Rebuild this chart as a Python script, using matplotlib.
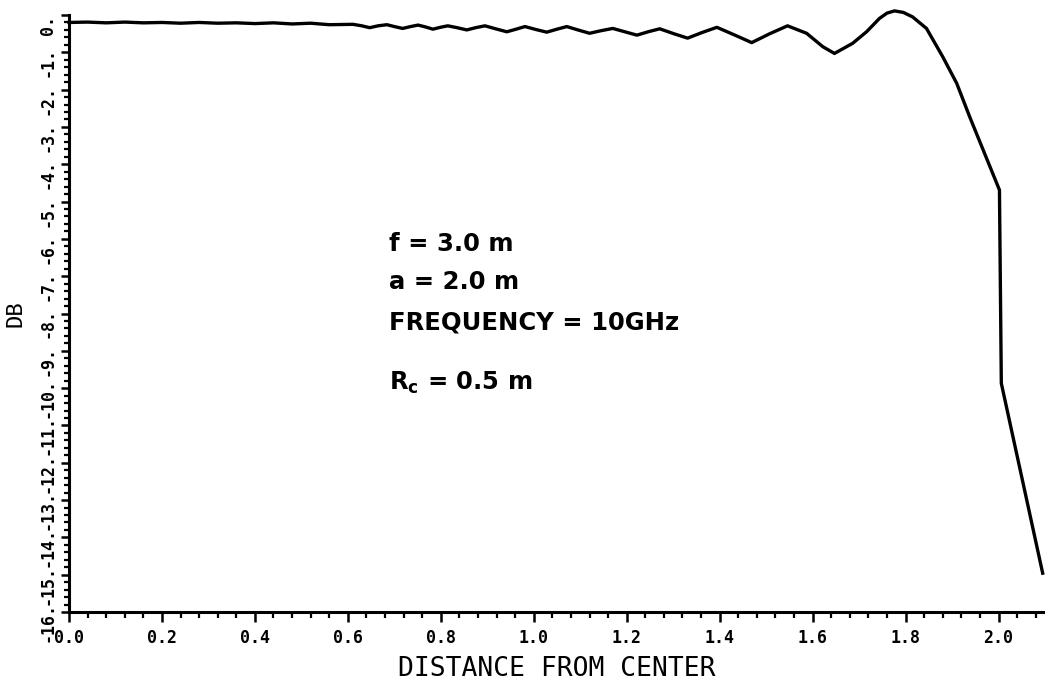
import numpy as np
import matplotlib
matplotlib.use("Agg")
import matplotlib.pyplot as plt
import matplotlib.transforms as mtransforms
from matplotlib.ticker import FixedLocator, FixedFormatter, MultipleLocator

# curve: distance from center (m) vs level (dB)
dist = [0.000, 0.040, 0.080, 0.120, 0.160, 0.200, 0.240, 0.280, 0.320, 0.360,
        0.400, 0.440, 0.480, 0.520, 0.560, 0.611, 0.630, 0.647, 0.665, 0.684,
        0.700, 0.718, 0.735, 0.751, 0.767, 0.783, 0.799, 0.815, 0.835, 0.856,
        0.875, 0.895, 0.918, 0.942, 0.962, 0.981, 1.005, 1.028, 1.050, 1.071,
        1.095, 1.120, 1.145, 1.170, 1.196, 1.222, 1.246, 1.271, 1.301, 1.331,
        1.362, 1.394, 1.431, 1.469, 1.508, 1.546, 1.587, 1.622, 1.647, 1.686,
        1.716, 1.744, 1.760, 1.776, 1.795, 1.815, 1.845, 1.880, 1.910, 1.938,
        2.002, 2.006, 2.095]
db = [-0.20, -0.19, -0.21, -0.19, -0.21, -0.20, -0.22, -0.20, -0.22, -0.21,
      -0.23, -0.21, -0.24, -0.22, -0.26, -0.25, -0.29, -0.34, -0.29, -0.26,
      -0.31, -0.36, -0.31, -0.27, -0.32, -0.38, -0.33, -0.29, -0.34, -0.40,
      -0.34, -0.29, -0.37, -0.45, -0.38, -0.31, -0.39, -0.46, -0.38, -0.31,
      -0.40, -0.49, -0.42, -0.36, -0.45, -0.54, -0.45, -0.37, -0.50, -0.62,
      -0.47, -0.33, -0.53, -0.74, -0.50, -0.29, -0.49, -0.85, -1.03, -0.76,
      -0.45, -0.09, 0.05, 0.11, 0.07, -0.05, -0.36, -1.12, -1.83, -2.73,
      -4.69, -9.87, -14.96]

x_ticks = [0.0, 0.2, 0.4, 0.6, 0.8, 1.0, 1.2, 1.4, 1.6, 1.8, 2.0]
x_labels = ["0.0", "0.2", "0.4", "0.6", "0.8", "1.0", "1.2", "1.4", "1.6", "1.8", "2.0"]
y_ticks = list(range(0, -17, -1))
y_labels = ["0."] + [f"{v}." for v in range(-1, -17, -1)]

notes = ["f = 3.0 m", "a = 2.0 m", "FREQUENCY = 10GHz", "R$_c$ = 0.5 m"]
note_y = [-6.13, -7.15, -8.23, -9.85]

plt.rcParams["mathtext.default"] = "bf"
TICKFONT = dict(family="DejaVu Sans Mono", weight="bold", size=12)

fig = plt.figure(figsize=(10.45, 6.81), dpi=100)
ax = fig.add_axes([69 / 1045, 69 / 681, 976 / 1045, 597 / 681])

ax.plot(dist, db, color="black", lw=2.4, clip_on=False, solid_joinstyle="round")

ax.set_xlim(0, 2.1)
ax.set_ylim(-16, 0)

for side in ("top", "right"):
    ax.spines[side].set_visible(False)
for side in ("left", "bottom"):
    ax.spines[side].set_linewidth(2.2)

ax.xaxis.set_major_locator(FixedLocator(x_ticks))
ax.xaxis.set_major_formatter(FixedFormatter(x_labels))
ax.xaxis.set_minor_locator(MultipleLocator(0.04))
ax.yaxis.set_major_locator(FixedLocator(y_ticks))
ax.yaxis.set_major_formatter(FixedFormatter(y_labels))
ax.yaxis.set_minor_locator(MultipleLocator(0.2))

ax.tick_params(which="major", direction="out", width=1.8)
ax.tick_params(axis="x", which="major", length=7, pad=5)
ax.tick_params(axis="x", which="minor", direction="out", length=4, width=1.6)
ax.tick_params(axis="y", which="major", length=6, pad=3)
ax.tick_params(axis="y", which="minor", direction="out", length=3.5, width=1.6)

for lab in ax.get_xticklabels():
    lab.set_fontproperties(TICKFONT)
shift = mtransforms.ScaledTranslation(0, -0.10, fig.dpi_scale_trans)
for lab in ax.get_yticklabels():
    lab.set_fontproperties(TICKFONT)
    lab.set_rotation(90)
    lab.set_verticalalignment("center")
    lab.set_transform(lab.get_transform() + shift)

ax.set_xlabel("DISTANCE FROM CENTER", family="DejaVu Sans Mono", size=19)
ax.xaxis.set_label_coords(0.5, -0.073)
ax.set_ylabel("DB", family="DejaVu Sans Mono", size=16)
ax.yaxis.set_label_coords(-0.045, 0.5)

for txt, yv in zip(notes, note_y):
    ax.text(0.688, yv, txt, fontsize=17.5, fontweight="bold",
            family="DejaVu Sans", ha="left", va="center")

fig.savefig("out.png", dpi=100)
